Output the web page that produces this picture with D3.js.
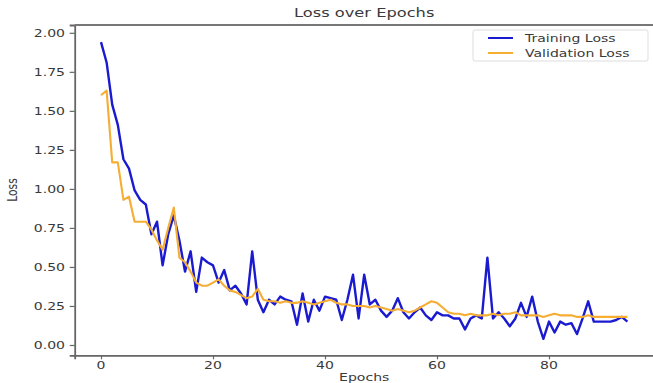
<!DOCTYPE html>
<html>
<head>
<meta charset="utf-8">
<script src="https://cdn.jsdelivr.net/npm/d3@7"></script>
<style>
  html, body { margin: 0; padding: 0; background: #fff; }
  svg { display: block; }
  text { font-family: "DejaVu Sans", sans-serif; fill: #3a3a3a; }
</style>
</head>
<body>
<svg id="chart" width="653" height="383"></svg>
<script>
// ---------------- data ----------------
const epochs = d3.range(0, 95);
const trainingLoss = [
  1.94, 1.81, 1.54, 1.41, 1.19, 1.13, 0.99, 0.93, 0.90, 0.71,
  0.79, 0.51, 0.71, 0.83, 0.67, 0.47, 0.60, 0.34, 0.56, 0.53,
  0.51, 0.40, 0.48, 0.35, 0.38, 0.33, 0.26, 0.60, 0.29, 0.21,
  0.29, 0.26, 0.31, 0.29, 0.28, 0.13, 0.33, 0.15, 0.29, 0.22,
  0.31, 0.30, 0.29, 0.16, 0.29, 0.45, 0.17, 0.45, 0.26, 0.29,
  0.22, 0.18, 0.22, 0.30, 0.21, 0.17, 0.21, 0.24, 0.19, 0.16,
  0.21, 0.19, 0.19, 0.17, 0.17, 0.10, 0.17, 0.19, 0.17, 0.56,
  0.17, 0.21, 0.17, 0.12, 0.17, 0.27, 0.18, 0.31, 0.15, 0.04,
  0.15, 0.08, 0.15, 0.13, 0.14, 0.07, 0.17, 0.28, 0.15, 0.15,
  0.15, 0.15, 0.16, 0.18, 0.15
];
const validationLoss = [
  1.60, 1.63, 1.17, 1.17, 0.93, 0.95, 0.79, 0.79, 0.79, 0.74,
  0.67, 0.61, 0.75, 0.88, 0.56, 0.53, 0.47, 0.40, 0.38, 0.38,
  0.40, 0.42, 0.38, 0.35, 0.34, 0.32, 0.30, 0.31, 0.36, 0.29,
  0.28, 0.28, 0.27, 0.28, 0.27, 0.27, 0.28, 0.27, 0.26, 0.27,
  0.28, 0.29, 0.27, 0.26, 0.26, 0.25, 0.25, 0.25, 0.24, 0.25,
  0.24, 0.23, 0.22, 0.23, 0.22, 0.21, 0.22, 0.24, 0.26, 0.28,
  0.27, 0.24, 0.21, 0.20, 0.20, 0.19, 0.20, 0.19, 0.19, 0.19,
  0.20, 0.19, 0.20, 0.20, 0.21, 0.19, 0.19, 0.19, 0.19, 0.18,
  0.19, 0.20, 0.19, 0.19, 0.19, 0.18, 0.18, 0.19, 0.18, 0.18,
  0.18, 0.18, 0.18, 0.18, 0.18
];
const xTicks = [0, 20, 40, 60, 80];
const yTicks = [0, 0.25, 0.5, 0.75, 1.0, 1.25, 1.5, 1.75, 2.0];
const seriesNames = ["Training Loss", "Validation Loss"];
const seriesColors = ["#1a1ad0", "#f5ad33"];

// ---------------- layout ----------------
const SX = 1.3; // horizontal stretch of the reference's text
const svg = d3.select("#chart");
const x = d3.scaleLinear().domain([-4.7, 98.7]).range([74.7, 653.7]);
const y = d3.scaleLinear().domain([-0.066, 2.05]).range([355.3, 25]);

function stretchedText(g, px, py, str, size, anchor, rotate) {
  return g.append("g")
    .attr("transform", `translate(${px},${py})` + (rotate ? ` rotate(${rotate})` : "") + ` scale(${SX},1)`)
    .append("text")
    .attr("font-size", size)
    .attr("text-anchor", anchor || "start")
    .text(str);
}

// lines
const line = d3.line().x((d, i) => x(epochs[i])).y(d => y(d));
svg.append("path").datum(trainingLoss)
  .attr("d", line).attr("fill", "none")
  .attr("stroke", seriesColors[0]).attr("stroke-width", 2.4)
  .attr("stroke-linejoin", "round");
svg.append("path").datum(validationLoss)
  .attr("d", line).attr("fill", "none")
  .attr("stroke", seriesColors[1]).attr("stroke-width", 2.1)
  .attr("stroke-linejoin", "round");

// axes
const gx = svg.append("g").attr("transform", `translate(0,${y.range()[0]})`)
  .call(d3.axisBottom(x).tickValues(xTicks).tickSize(4).tickFormat(() => ""));
const gy = svg.append("g").attr("transform", `translate(${x.range()[0]},0)`)
  .call(d3.axisLeft(y).tickValues(yTicks).tickSize(5).tickFormat(() => ""));
[gx, gy].forEach(g => {
  g.select(".domain").attr("stroke", "#666").attr("stroke-width", 1.8);
  g.selectAll(".tick line").attr("stroke", "#666").attr("stroke-width", 1.2);
});
// top spine
svg.append("line")
  .attr("x1", x.range()[0]).attr("x2", x.range()[1])
  .attr("y1", y.range()[1]).attr("y2", y.range()[1])
  .attr("stroke", "#777").attr("stroke-width", 1.8);

const labels = svg.append("g");
xTicks.forEach(v => stretchedText(labels, x(v), 369, String(v), 10.8, "middle"));
yTicks.forEach(v => stretchedText(labels, 65, y(v) + 3.8, d3.format(".2f")(v), 10.8, "end"));

// axis titles
stretchedText(labels, (x.range()[0] + x.range()[1]) / 2, 381, "Epochs", 10.8, "middle");
svg.append("g").attr("transform", `translate(17,190) rotate(-90) scale(1,${SX})`)
  .append("text").attr("font-size", 10.8).attr("text-anchor", "middle").text("Loss");
stretchedText(labels, (x.range()[0] + x.range()[1]) / 2, 17, "Loss over Epochs", 12.5, "middle");

// legend
const lg = svg.append("g");
lg.append("rect").attr("x", 473).attr("y", 30).attr("width", 175).attr("height", 31)
  .attr("rx", 2).attr("fill", "#fff").attr("stroke", "#ddd").attr("stroke-width", 1);
seriesNames.forEach((name, i) => {
  const ly = 38 + i * 15;
  lg.append("line").attr("x1", 488).attr("x2", 513).attr("y1", ly).attr("y2", ly)
    .attr("stroke", seriesColors[i]).attr("stroke-width", 2);
  stretchedText(lg, 525, ly + 4, name, 10.8, "start");
});
</script>
</body>
</html>
